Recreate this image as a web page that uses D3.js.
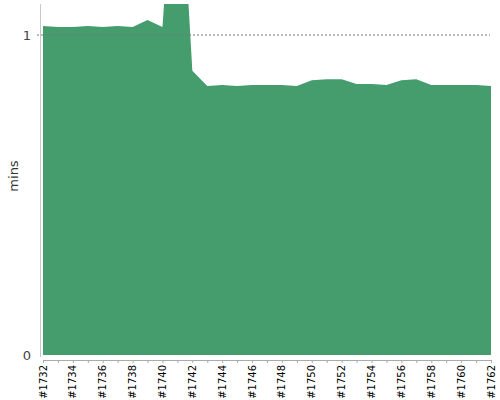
<!DOCTYPE html>
<html>
  <head>
    <script src="https://d3js.org/d3.v7.min.js"></script>
    <style>
      body { margin: 0; background: #fff; }
      text { font-family: "DejaVu Sans", sans-serif; }
    </style>
  </head>
  <body>
    <script>
      // build numbers and durations (minutes)
      var builds = d3.range(1732, 1763);
      var mins = [1.028, 1.025, 1.025, 1.028, 1.025, 1.028, 1.025, 1.047, 1.025, 1.70,
                  0.888, 0.841, 0.844, 0.841, 0.844, 0.844, 0.844, 0.841, 0.859, 0.862,
                  0.862, 0.847, 0.847, 0.844, 0.859, 0.862, 0.844, 0.844, 0.844, 0.844,
                  0.841];
      var yTicks = [0, 1];
      var labelBuilds = builds.filter(function(b) { return (b - 1732) % 2 == 0; });

      var data = builds.map(function(b, i) { return {build: b, mins: mins[i]}; });

      var svg = d3.select("body").append("svg")
          .attr("width", 500)
          .attr("height", 400);

      var x = d3.scaleLinear().domain([1732, 1762]).range([43, 491]);
      var y = d3.scaleLinear().domain([0, 1.097]).range([355, 4]);

      svg.append("clipPath").attr("id", "clip")
        .append("rect").attr("x", 40).attr("y", 4).attr("width", 460).attr("height", 352);

      // area
      var area = d3.area()
          .x(function(d) { return x(d.build); })
          .y0(y(0))
          .y1(function(d) { return y(d.mins); });

      svg.append("path")
          .datum(data)
          .attr("clip-path", "url(#clip)")
          .attr("fill", "#459c6c")
          .attr("d", area);

      // dotted gridline at 1 min
      svg.append("line")
          .attr("x1", 37).attr("x2", 490)
          .attr("y1", y(1)).attr("y2", y(1))
          .attr("stroke", "#777")
          .attr("stroke-width", 1)
          .attr("stroke-dasharray", "2,2");

      // y axis
      var yAxis = svg.append("g")
          .attr("transform", "translate(40,0)")
          .call(d3.axisLeft(y).tickValues(yTicks).tickFormat(d3.format("d")).tickSize(0).tickPadding(9));
      yAxis.select(".domain").attr("d", "M0.5,4V357").attr("stroke", "#c8c8c8");
      yAxis.selectAll("text").attr("font-size", 13).attr("fill", "#444")
          .style("font-family", "DejaVu Sans, sans-serif");

      // x axis (minor ticks every build, labels every 2)
      var xg = svg.append("g").attr("transform", "translate(0,360)");
      xg.call(d3.axisBottom(x).tickValues(builds).tickSize(3).tickFormat(""));
      xg.select(".domain").attr("d", "M43,0.5H491").attr("stroke", "#aaa");
      xg.selectAll(".tick line").attr("stroke", "#aaa");

      xg.selectAll(".lbl")
          .data(labelBuilds)
        .enter().append("text")
          .attr("class", "lbl")
          .attr("transform", function(d) { return "translate(" + x(d) + ",5) rotate(-90)"; })
          .attr("dy", "0.35em")
          .attr("text-anchor", "end")
          .attr("font-size", 10)
          .attr("fill", "#000")
          .text(function(d) { return "#" + d; });

      // y label
      svg.append("text")
          .attr("transform", "translate(13,176) rotate(-90)")
          .attr("dy", "0.35em")
          .attr("text-anchor", "middle")
          .attr("font-size", 13)
          .attr("fill", "#333")
          .text("mins");
    </script>
  </body>
</html>
